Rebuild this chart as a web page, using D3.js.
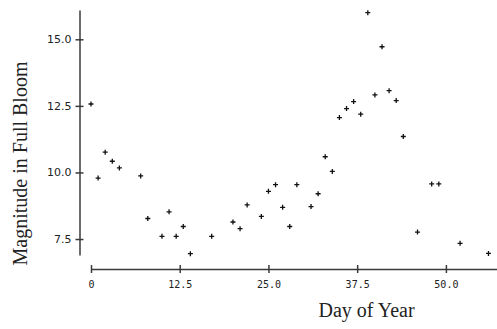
<!DOCTYPE html>
<html>
<head>
<meta charset="utf-8">
<script src="https://cdn.jsdelivr.net/npm/d3@7"></script>
<style>
  html, body { margin: 0; padding: 0; background: #fff; }
  svg { display: block; }
</style>
</head>
<body>
<svg id="chart" width="497" height="329"></svg>
<script>
// Data: day of year and magnitude in full bloom
const days = [0, 1, 2, 3, 4, 7, 8, 10, 11, 12, 13, 14, 17, 20, 21, 22, 24, 25, 26, 27, 28, 29, 31, 32, 33, 34, 35, 36, 37, 38, 39, 40, 41, 42, 43, 44, 46, 48, 49, 52, 56];
const magnitudes = [12.57, 9.79, 10.76, 10.42, 10.17, 9.87, 8.27, 7.60, 8.52, 7.60, 7.97, 6.95, 7.60, 8.14, 7.89, 8.78, 8.35, 9.29, 9.54, 8.69, 7.97, 9.54, 8.72, 9.20, 10.59, 10.04, 12.06, 12.40, 12.66, 12.19, 16.0, 12.91, 14.72, 13.07, 12.70, 11.35, 7.76, 9.57, 9.57, 7.34, 6.96];
const xTicks = [0, 12.5, 25, 37.5, 50];
const xTickLabels = ["0", "12.5", "25.0", "37.5", "50.0"];
const yTicks = [7.5, 10, 12.5, 15];
const yTickLabels = ["7.5", "10.0", "12.5", "15.0"];

const svg = d3.select("#chart");

const x = d3.scaleLinear().domain([0, 57.2]).range([91, 497]);
const y = d3.scaleLinear().domain([6.9, 16.1]).range([255, 10]);

const axisColor = "#3a3a3a";

// Y axis
const yAxisX = 79.5;
const yAxis = d3.axisLeft(y)
  .tickValues(yTicks)
  .tickFormat((d, i) => yTickLabels[i])
  .tickSizeInner(4).tickSizeOuter(0).tickPadding(4);
const gy = svg.append("g").attr("transform", `translate(${yAxisX},0)`).call(yAxis);
gy.select(".domain").attr("stroke", axisColor).attr("stroke-width", 1.5);
gy.selectAll(".tick line").attr("stroke", axisColor).attr("stroke-width", 1.5).attr("x1", 4);
gy.selectAll(".tick text")
  .attr("font-family", "DejaVu Sans, Verdana, sans-serif")
  .attr("font-size", 11).attr("fill", "#222");

// X axis
const xAxisY = 269;
const xAxis = d3.axisBottom(x)
  .tickValues(xTicks)
  .tickFormat((d, i) => xTickLabels[i])
  .tickSizeInner(4).tickSizeOuter(0).tickPadding(8);
const gx = svg.append("g").attr("transform", `translate(0,${xAxisY})`).call(xAxis);
gx.select(".domain").attr("stroke", axisColor).attr("stroke-width", 1.5);
gx.selectAll(".tick line").attr("stroke", axisColor).attr("stroke-width", 1.5).attr("y1", -4);
gx.selectAll(".tick text")
  .attr("font-family", "DejaVu Sans Mono, monospace")
  .attr("font-size", 10).attr("fill", "#222");

// Points as small plus markers
const data = days.map((d, i) => ({ day: d, mag: magnitudes[i] }));
svg.append("g").selectAll("path.pt").data(data).enter().append("path")
  .attr("class", "pt")
  .attr("d", d => {
    const cx = x(d.day), cy = y(d.mag);
    return `M${cx - 2.5},${cy}h5M${cx},${cy - 2.5}v5`;
  })
  .attr("stroke", "#111").attr("stroke-width", 1.3).attr("fill", "none");

// Axis titles
svg.append("text")
  .attr("x", 366.5).attr("y", 317)
  .attr("text-anchor", "middle")
  .attr("font-family", "Liberation Serif, Times New Roman, serif")
  .attr("font-size", 20).attr("fill", "#222")
  .text("Day of Year");

svg.append("text")
  .attr("transform", "translate(27,163.5) rotate(-90)")
  .attr("text-anchor", "middle")
  .attr("font-family", "Liberation Serif, Times New Roman, serif")
  .attr("font-size", 20).attr("fill", "#222")
  .text("Magnitude in Full Bloom");
</script>
</body>
</html>
